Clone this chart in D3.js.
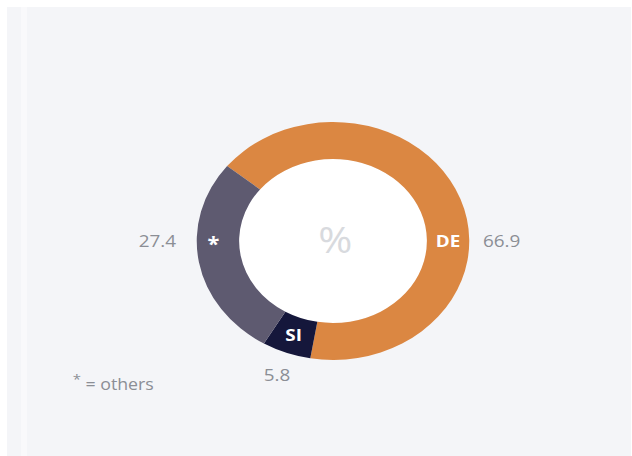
<!DOCTYPE html>
<html><head><meta charset="utf-8">
<script src="https://cdn.jsdelivr.net/npm/d3@7"></script>
<style>html,body{margin:0;padding:0;background:#fff;}svg{display:block;}</style>
</head><body>
<svg id="chart" width="632" height="456"></svg>
<script>
const categories = ["DE", "SI", "*"];
const values = [66.9, 5.8, 27.4];
const valueLabels = ["66.9", "5.8", "27.4"];
const colors = ["#db8742", "#15173b", "#5e5a70"];
const centerLabel = "%";
const noteLabel = "= others";

const W = 632, H = 456;
const sx = 1.145;            // horizontal stretch of the reference image
const cx = 333 / sx, cy = 241;
const outerR = 119, innerR = 82;
const font = "'Open Sans', 'Noto Sans', sans-serif";

const svg = d3.select("#chart");
svg.append("rect").attr("x", 0).attr("y", 0).attr("width", W).attr("height", H).attr("fill", "#ffffff");
svg.append("rect").attr("x", 7).attr("y", 7).attr("width", W - 8).attr("height", H - 7).attr("fill", "#f4f5f8");
svg.append("rect").attr("x", 21).attr("y", 7).attr("width", 6).attr("height", H - 7).attr("fill", "#ffffff").attr("opacity", 0.45);

const root = svg.append("g").attr("transform", `scale(${sx},1)`);

const start = -51 * Math.PI / 180;
const pie = d3.pie().sort(null).value(d => d.v).startAngle(start).endAngle(start + 2 * Math.PI);
const data = categories.map((c, i) => ({ c, v: values[i], lab: valueLabels[i], col: colors[i] }));
const arcs = pie(data);
const arc = d3.arc().innerRadius(innerR).outerRadius(outerR);

const g = root.append("g").attr("transform", `translate(${cx},${cy})`);
g.append("circle").attr("r", innerR).attr("fill", "#ffffff");
g.selectAll("path.slice").data(arcs).join("path")
  .attr("class", "slice").attr("d", arc).attr("fill", d => d.data.col);

function labelAngle(d) {
  const norm = a => ((a % (2 * Math.PI)) + 2 * Math.PI) % (2 * Math.PI);
  for (const t of [Math.PI / 2, 3 * Math.PI / 2]) {
    for (const k of [-2 * Math.PI, 0, 2 * Math.PI]) {
      if (t + k >= d.startAngle && t + k <= d.endAngle) return t;
    }
  }
  return norm((d.startAngle + d.endAngle) / 2);
}

// inner category labels
const midR = (innerR + outerR) / 2;
g.selectAll("text.cat").data(arcs).join("text")
  .attr("class", "cat")
  .attr("x", d => Math.sin(labelAngle(d)) * midR - (d.data.c === "*" ? 4 : 0))
  .attr("y", d => -Math.cos(labelAngle(d)) * midR)
  .attr("dy", d => d.data.c === "*" ? "0.55em" : "0.36em")
  .attr("text-anchor", "middle")
  .attr("font-family", font).attr("font-weight", 700)
  .attr("font-size", d => d.data.c === "*" ? 19 : 16.5)
  .attr("fill", "#ffffff")
  .text(d => d.data.c);

// outer value labels
g.selectAll("text.val").data(arcs).join("text")
  .attr("class", "val")
  .each(function (d) {
    const a = labelAngle(d);
    const s = Math.sin(a), c = Math.cos(a);
    const t = d3.select(this);
    if (Math.abs(s) > 0.8) {
      const r = outerR + (s > 0 ? 12 : 18);
      t.attr("x", s * r).attr("y", -c * r).attr("text-anchor", s > 0 ? "start" : "end");
    } else {
      const r = outerR + 24;
      t.attr("x", s * r).attr("y", -c * r).attr("text-anchor", "middle");
    }
  })
  .attr("dy", "0.36em")
  .attr("font-family", font).attr("font-size", 16.5)
  .attr("fill", "#8b8e95")
  .text(d => d.data.lab);

// center label
g.append("text").attr("x", 2).attr("y", -1).attr("dy", "0.36em")
  .attr("text-anchor", "middle").attr("font-family", font).attr("font-size", 36)
  .attr("fill", "#d8dade").text(centerLabel);

// note
const note = root.append("text").attr("x", 63.5).attr("y", 390)
  .attr("font-family", font).attr("font-size", 15.5).attr("fill", "#8b8e95");
note.append("tspan").attr("font-size", 13).attr("dy", -6).text("*");
note.append("tspan").attr("dy", 6).attr("dx", 4).text(noteLabel);
</script>
</body></html>
